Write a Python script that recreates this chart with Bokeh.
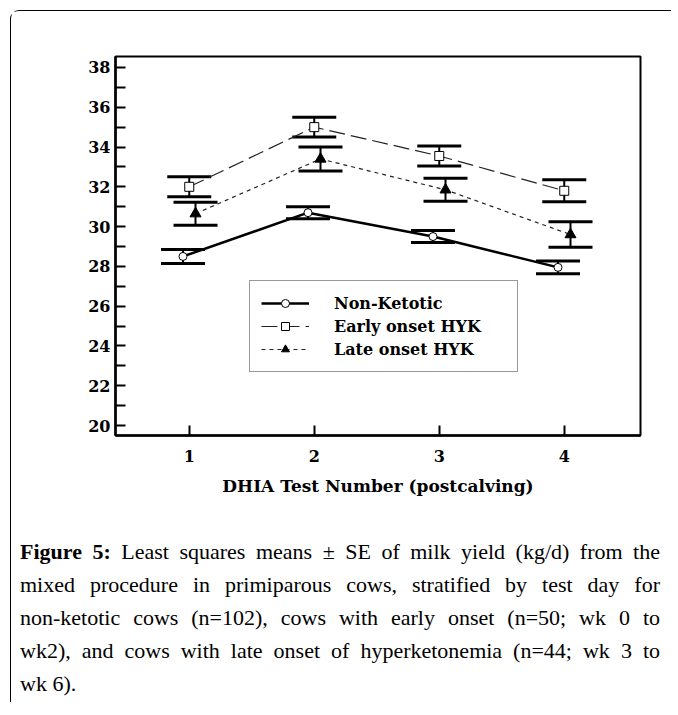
from math import pi
import numpy as np
from bokeh.plotting import figure
from bokeh.models import (ColumnDataSource, Whisker, TeeHead, FixedTicker, Legend,
                          LegendItem, Label, Div, Range1d)
from bokeh.layouts import column
from bokeh.transform import dodge
from bokeh.embed import file_html
from bokeh.resources import INLINE

# ---- data ----
test_number = [1, 2, 3, 4]
nonket_mean = [28.5, 30.7, 29.5, 27.95]
nonket_se = [0.35, 0.3, 0.3, 0.32]
early_mean = [32.0, 35.0, 33.55, 31.8]
early_se = [0.5, 0.5, 0.5, 0.55]
late_mean = [30.65, 33.4, 31.85, 29.6]
late_se = [0.58, 0.6, 0.58, 0.64]
series_names = ["Non-Ketotic", "Early onset HYK", "Late onset HYK"]
y_ticks = [20, 22, 24, 26, 28, 30, 32, 34, 36, 38]
y_minor = [21, 23, 25, 27, 29, 31, 33, 35, 37]
x_ticks = [1, 2, 3, 4]

FONT = "DejaVu Serif"
CAP_FONT = "Liberation Serif"

def src(mean, se):
    m = np.array(mean); s = np.array(se)
    return ColumnDataSource(dict(x=test_number, y=mean, lo=list(m - s), hi=list(m + s)))

s_non = src(nonket_mean, nonket_se)
s_early = src(early_mean, early_se)
s_late = src(late_mean, late_se)

p = figure(width=650, height=501, x_range=Range1d(0.41, 4.61), y_range=Range1d(19.5, 38.55),
           output_backend="svg", toolbar_location=None,
           min_border_left=104, min_border_right=21, min_border_top=45, min_border_bottom=77)
p.grid.visible = False
p.outline_line_color = "black"
p.outline_line_width = 2
p.background_fill_color = "white"
p.border_fill_color = "white"

# lines
l_non = p.line(dodge("x", -0.05), "y", source=s_non, line_color="black", line_width=2.5)
l_early = p.line(dodge("x", 0.0), "y", source=s_early, line_color="#222222", line_width=1.2,
                 line_dash="16 6")
l_late = p.line(dodge("x", 0.05), "y", source=s_late, line_color="#222222", line_width=1.2,
                line_dash="4 4")

# error bars
for s, off in [(s_non, -0.05), (s_early, 0.0), (s_late, 0.05)]:
    w = Whisker(base=dodge("x", off), upper="hi", lower="lo", source=s,
                line_color="black", line_width=2,
                upper_head=TeeHead(size=44, line_width=3, line_color="black"),
                lower_head=TeeHead(size=44, line_width=3, line_color="black"))
    p.add_layout(w)

# markers
m_non = p.scatter(dodge("x", -0.05), "y", source=s_non, marker="circle", size=8,
                  fill_color="white", line_color="black", line_width=1)
m_early = p.scatter(dodge("x", 0.0), "y", source=s_early, marker="square", size=9,
                    fill_color="white", line_color="black", line_width=1)
m_late = p.scatter(dodge("x", 0.05), "y", source=s_late, marker="triangle", size=11,
                   fill_color="black", line_color="black", line_width=1)

# axes
p.yaxis.ticker = FixedTicker(ticks=y_ticks, minor_ticks=y_minor)
p.xaxis.ticker = FixedTicker(ticks=x_ticks)
for ax in (p.xaxis[0], p.yaxis[0]):
    ax.axis_line_width = 2.5
    ax.axis_line_color = "black"
    ax.major_tick_line_width = 2
    ax.major_tick_line_color = "black"
    ax.major_tick_in = 10
    ax.major_tick_out = 0
    ax.minor_tick_line_width = 2
    ax.minor_tick_line_color = "black"
    ax.minor_tick_in = 10
    ax.minor_tick_out = 0
    ax.major_label_text_font = FONT
    ax.major_label_text_font_style = "bold"
    ax.major_label_text_font_size = "16px"
    ax.major_label_text_color = "black"
p.xaxis.minor_tick_line_color = None
p.yaxis.major_label_standoff = 5
p.xaxis.major_label_standoff = 14
p.xaxis.axis_label = "DHIA Test Number (postcalving)"
p.xaxis.axis_label_text_font = FONT
p.xaxis.axis_label_text_font_style = "bold"
p.xaxis.axis_label_text_font_size = "17px"
p.xaxis.axis_label_text_color = "black"
p.xaxis.axis_label_standoff = 11

ylab = Label(x=-0.09, y=27.35, text="Milk yield (kg/d)", angle=pi / 2,
             text_align="center", text_baseline="middle", text_font=FONT,
             text_font_style="bold", text_font_size="19px", text_color="black")
p.add_layout(ylab)

legend = Legend(items=[LegendItem(label=series_names[0], renderers=[l_non, m_non]),
                       LegendItem(label=series_names[1], renderers=[l_early, m_early]),
                       LegendItem(label=series_names[2], renderers=[l_late, m_late])],
                location=(134, 63))
legend.label_text_font = FONT
legend.label_text_font_style = "bold"
legend.label_text_font_size = "16px"
legend.label_text_color = "black"
legend.glyph_width = 48
legend.glyph_height = 20
legend.label_height = 22
legend.label_standoff = 25
legend.label_width = 172
legend.spacing = 1
legend.padding = 11
legend.margin = 0
legend.border_line_color = "#333333"
legend.border_line_width = 1.5
legend.background_fill_color = "white"
legend.background_fill_alpha = 1
p.add_layout(legend)

line_style = ("width: 640px; text-align: justify; text-align-last: justify; "
              "white-space: nowrap;")
cap_lines = [
    "<b>Figure 5:</b> Least squares means ± SE of milk yield (kg/d) from the",
    "mixed procedure in primiparous cows, stratified by test day for",
    "non-ketotic cows (n=102), cows with early onset (n=50; wk 0 to",
    "wk2), and cows with late onset of hyperketonemia (n=44; wk 3 to",
]
html = "".join(f'<div style="{line_style}">{t}</div>' for t in cap_lines)
html += '<div style="width: 640px; text-align: left;">wk 6).</div>'
caption = Div(text=html, width=650, height=180,
              styles={"font-family": CAP_FONT, "font-size": "22px", "line-height": "33px",
                      "color": "black", "padding-top": "18px", "padding-left": "4px",
                      "box-sizing": "border-box"})

layout = column(p, caption, margin=(10, 0, 0, 10),
                styles={"border-left": "1.5px solid black", "border-top": "1.5px solid black",
                        "border-top-left-radius": "9px"})

open("out.html", "w").write(file_html(layout, INLINE))
